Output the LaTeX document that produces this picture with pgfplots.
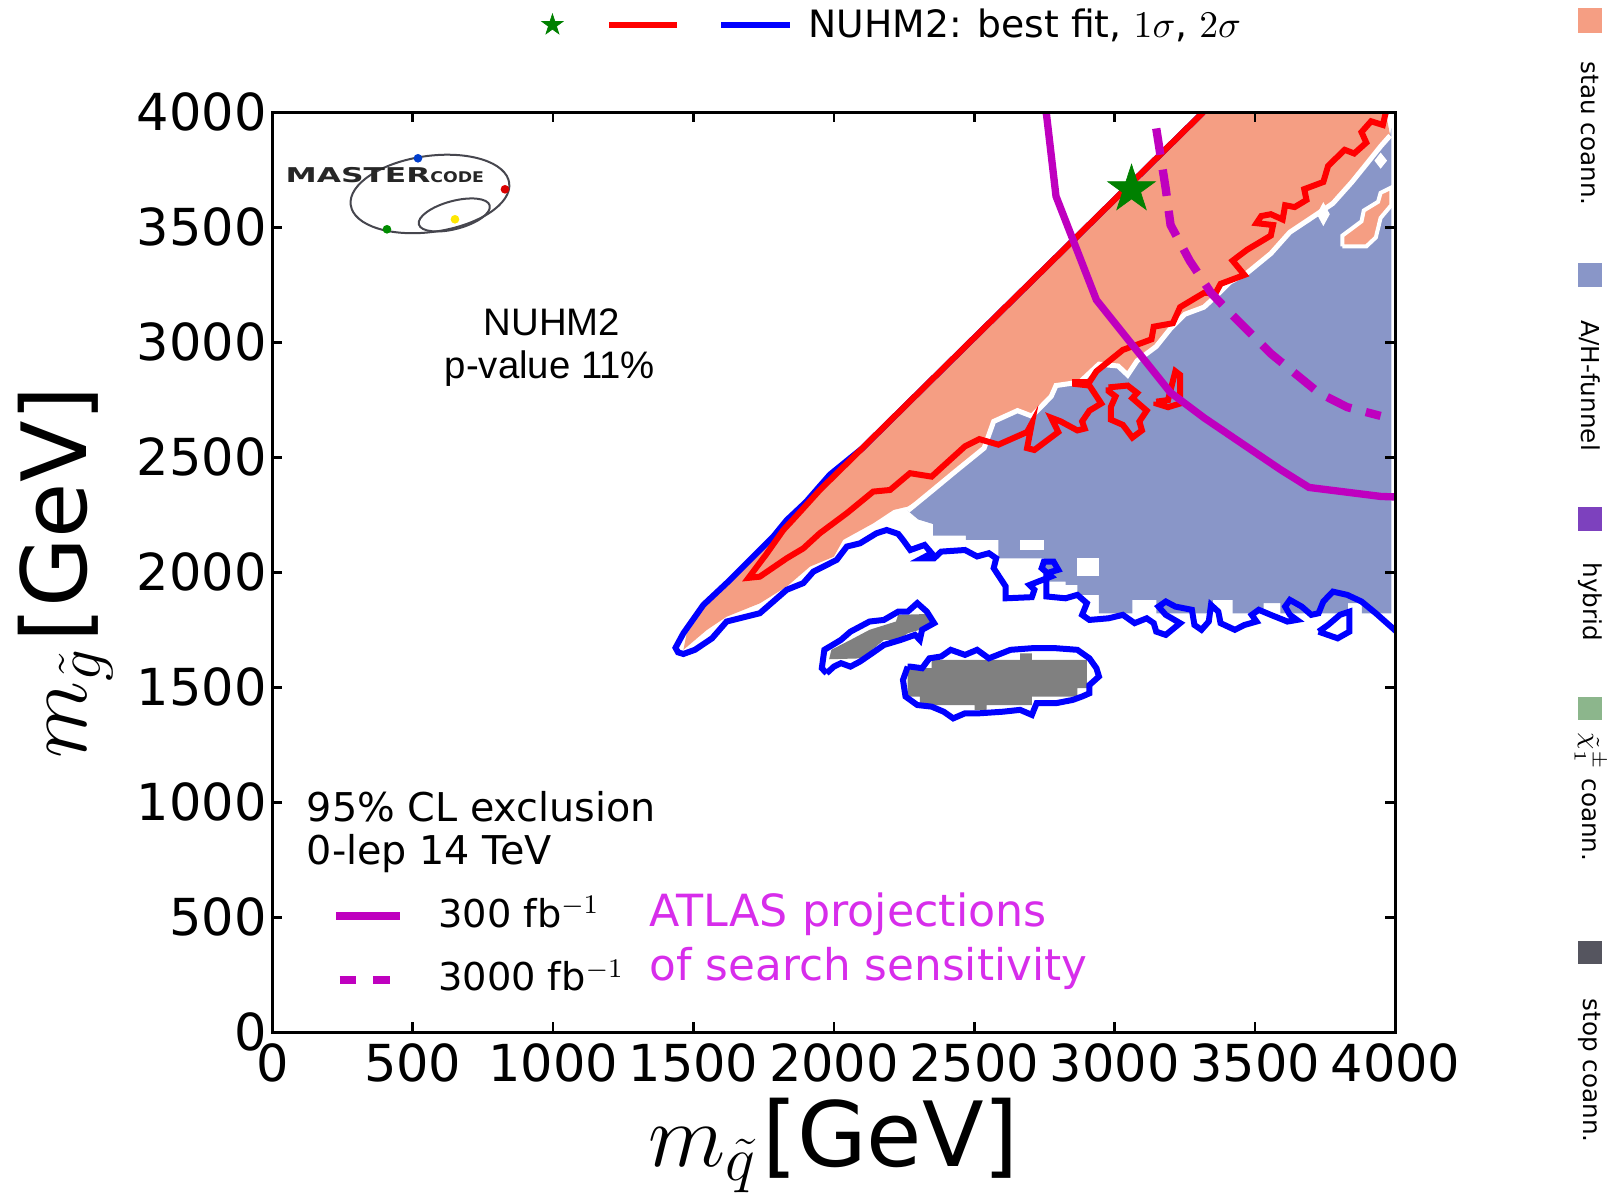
\RequirePackage{fix-cm}
\documentclass[border=0pt]{standalone}
\usepackage{fontspec}
\setmainfont{DejaVu Sans}
\newfontfamily\arialf{Liberation Sans}
\usepackage{pgfplots}
\pgfplotsset{compat=1.18}
\usetikzlibrary{shapes.geometric}

\definecolor{salm}{RGB}{245,158,131}
\definecolor{funnel}{RGB}{137,150,200}
\definecolor{stopc}{RGB}{128,128,128}
\definecolor{mg}{RGB}{191,0,191}
\definecolor{mgtext}{RGB}{215,45,235}
\definecolor{bfgreen}{RGB}{0,128,0}
\definecolor{hybridc}{RGB}{125,65,190}
\definecolor{charc}{RGB}{140,182,140}
\definecolor{stopleg}{RGB}{85,85,95}
\definecolor{logogray}{RGB}{70,70,78}

\pgfdeclareplotmark{fivestar}{%
  \pgfpathmoveto{\pgfpointpolar{90}{\pgfplotmarksize}}%
  \pgfpathlineto{\pgfpointpolar{126}{0.382\pgfplotmarksize}}%
  \pgfpathlineto{\pgfpointpolar{162}{\pgfplotmarksize}}%
  \pgfpathlineto{\pgfpointpolar{198}{0.382\pgfplotmarksize}}%
  \pgfpathlineto{\pgfpointpolar{234}{\pgfplotmarksize}}%
  \pgfpathlineto{\pgfpointpolar{270}{0.382\pgfplotmarksize}}%
  \pgfpathlineto{\pgfpointpolar{306}{\pgfplotmarksize}}%
  \pgfpathlineto{\pgfpointpolar{342}{0.382\pgfplotmarksize}}%
  \pgfpathlineto{\pgfpointpolar{18}{\pgfplotmarksize}}%
  \pgfpathlineto{\pgfpointpolar{54}{0.382\pgfplotmarksize}}%
  \pgfpathclose
  \pgfusepathqfillstroke
}

\begin{document}
\begin{tikzpicture}
\path[use as bounding box] (-81.69pt,-49.71pt) rectangle (400.41pt,309.69pt);

\begin{axis}[
  at={(0pt,0pt)}, anchor=south west,
  scale only axis, width=336.96pt, height=276pt,
  xmin=0, xmax=4000, ymin=0, ymax=4000,
  xtick={0,500,...,4000}, ytick={0,500,...,4000},
  scaled ticks=false,
  /pgf/number format/1000 sep={},
  /pgf/number format/assume math mode=true,
  tick align=inside, tick pos=both,
  major tick length=3pt,
  axis line style={line width=0.8pt},
  every tick/.style={black, line width=0.8pt},
  ticklabel style={font=\fontsize{15.3}{15.3}\selectfont},
  xticklabel style={inner sep=0pt, yshift=-3.3pt},
  yticklabel style={inner sep=0pt, xshift=-1.5pt},
  xlabel={$m_{\tilde{q}}$\kern1.5pt[GeV]},
  ylabel={$m_{\tilde{g}}$\kern1.5pt[GeV]},
  every axis x label/.style={at={([yshift=-40.3pt]axis description cs:0.5,0)}, anchor=base, font=\fontsize{27}{27}\selectfont},
  every axis y label/.style={at={([xshift=-55.6pt]axis description cs:0,0.5)}, anchor=base, rotate=90, font=\fontsize{27}{27}\selectfont},
  axis on top,
  legend style={draw=none, fill=none, inner sep=0pt, outer sep=0pt,
    at={(axis description cs:0.0537,0.154)}, anchor=north west,
    row sep=4.6pt, column sep=8.5pt,
    cells={anchor=base west, inner sep=0pt, text height=9pt, text depth=3pt},
    font=\fontsize{11.5}{11.5}\selectfont},
]
\addlegendimage{legend image code/.code={\draw[mg,line width=2.2pt] (0pt,3.4pt) -- (19pt,3.4pt);}}
\addlegendentry{300 fb$^{-1}$}
\addlegendimage{legend image code/.code={\draw[mg,line width=2.4pt,dash pattern=on 5pt off 5pt] (1pt,3.4pt) -- (16pt,3.4pt);}}
\addlegendentry{3000 fb$^{-1}$}

% stau coannihilation region
\addplot[draw=none, fill=salm, forget plot] coordinates {
(1464,1663)(1475,1730)(1540,1850)(1620,1945)(1713,2060)(1784,2150)(1832,2222)(1900,2298)(1950,2358)(2500,3020)(3315,4000)(3965,4000)(3981,3899)
(3947,3852)(3896,3774)(3845,3697)(3777,3604)(3692,3534)(3624,3479)(3556,3386)(3471,3301)(3411,3262)(3360,3200)(3318,3153)(3250,3122)(3199,3060)(3148,2982)(3080,2920)(3046,2858)(3012,2897)(2944,2905)(2876,2827)(2791,2812)(2774,2765)(2705,2679)(2654,2703)(2569,2656)(2535,2540)(2433,2439)(2348,2353)(2263,2286)
(2212,2271)(2140,2213)(2033,2141)(2000,2068)(1915,2025)(1832,1938)(1736,1865)(1618,1807)(1547,1749)(1464,1663)};

% A/H funnel region
\addplot[draw=none, fill=funnel, forget plot] coordinates {
(2263,2268)(2348,2353)(2433,2439)(2535,2540)(2569,2656)(2654,2703)(2705,2679)(2774,2765)(2791,2812)(2876,2827)(2944,2905)(3012,2897)(3046,2858)(3080,2920)(3148,2982)(3199,3060)(3250,3122)(3318,3153)(3360,3200)(3411,3262)(3471,3301)(3556,3386)(3624,3479)(3692,3534)(3777,3604)(3845,3697)(3896,3774)(3947,3852)(3981,3899)(3985,3930)
(3985,1822)(3880,1822)(3880,1866)(3830,1866)(3830,1822)(3590,1822)(3590,1866)(3530,1866)(3530,1822)(3420,1822)(3420,1880)(3350,1880)(3350,1822)(3148,1822)(3148,1880)(3063,1880)(3063,1822)(2944,1822)(2944,1902)(2867,1902)(2867,1945)(2825,1945)(2825,1960)(2748,1960)(2748,2061)(2586,2061)(2586,2141)(2470,2141)(2470,2160)(2353,2160)(2353,2210)(2300,2230)(2263,2268)};

% holes in funnel region
\addplot[draw=none, fill=white, forget plot] coordinates {(2867,1982)(2944,1982)(2944,2061)(2867,2061)};
\addplot[draw=none, fill=white, forget plot] coordinates {(2663,2097)(2748,2097)(2748,2141)(2663,2141)};
\addplot[draw=none, fill=white, forget plot] coordinates {(3720,3557)(3743,3610)(3766,3557)(3743,3505)};
\addplot[draw=none, fill=white, forget plot] coordinates {(3925,3790)(3947,3825)(3970,3790)(3947,3755)};

% stau strip at the right edge
\addplot[draw=white, line width=1.2pt, fill=salm, forget plot] coordinates {
(3811,3417)(3811,3464)(3879,3526)(3887,3573)(3938,3611)(3947,3650)(3985,3673)(3985,3596)(3947,3541)(3930,3456)(3896,3417)(3811,3417)};

% white border between regions
\addplot[white, line width=1.5pt, forget plot] coordinates {
(2263,2268)(2348,2353)(2433,2439)(2535,2540)(2569,2656)(2654,2703)(2705,2679)(2774,2765)(2791,2812)(2876,2827)(2944,2905)(3012,2897)(3046,2858)(3080,2920)(3148,2982)(3199,3060)(3250,3122)(3318,3153)(3360,3200)(3411,3262)(3471,3301)(3556,3386)(3624,3479)(3692,3534)(3777,3604)(3845,3697)(3896,3774)(3947,3852)(3981,3899)};

% stop coannihilation patches
\addplot[draw=none, fill=stopc, forget plot] coordinates {
(1983,1622)(1991,1663)(2059,1706)(2127,1750)(2221,1786)(2229,1815)(2340,1819)(2348,1786)(2306,1750)(2263,1735)(2229,1706)(2178,1706)(2136,1663)(2102,1626)};
\addplot[draw=none, fill=stopc, forget plot] coordinates {
(2263,1576)(2263,1460)(2306,1460)(2306,1423)(2501,1423)(2501,1402)(2544,1402)(2544,1423)(2705,1423)(2705,1460)(2867,1460)(2867,1496)(2901,1496)(2901,1619)(2705,1619)(2705,1648)(2663,1648)(2663,1619)(2348,1619)(2348,1583)(2263,1583)};

% 2 sigma contours (blue)
\addplot[blue, line width=1.8pt, forget plot] coordinates {
(3315,4000)(2900,3501)(2500,3020)(2100,2538)(1986,2425)(1950,2375)(1900,2305)(1832,2227)(1784,2155)(1713,2068)(1618,1953)(1535,1858)(1464,1735)(1436,1672)(1445,1652)(1464,1645)(1505,1663)(1566,1713)(1618,1786)(1736,1822)(1832,1924)(1891,1953)(1927,2003)(2010,2054)(2046,2112)(2093,2126)(2152,2170)(2188,2184)(2229,2167)(2246,2141)(2272,2097)(2323,2119)(2348,2083)(2314,2061)(2357,2061)(2382,2090)(2467,2097)(2510,2069)(2552,2083)(2578,2061)(2569,2018)(2612,1938)(2612,1887)(2705,1892)(2714,1924)(2697,1945)(2774,1982)(2740,2018)(2748,2047)(2782,2047)(2799,2011)(2757,1996)(2757,1895)(2825,1887)(2867,1902)(2901,1866)(2884,1815)(2910,1793)(2978,1800)(3029,1815)(3071,1779)(3114,1800)(3139,1779)(3148,1742)(3182,1728)(3233,1779)(3182,1815)(3156,1851)(3182,1873)(3216,1851)(3275,1837)(3284,1771)(3309,1750)(3335,1786)(3343,1858)(3369,1829)(3377,1779)(3428,1750)(3462,1771)(3505,1786)(3488,1815)(3513,1837)(3556,1815)(3615,1786)(3649,1793)(3624,1815)(3607,1851)(3624,1880)(3666,1851)(3700,1815)(3726,1822)(3743,1873)(3777,1916)(3828,1902)(3879,1873)(3930,1822)(3990,1757)(4010,1735)};
\addplot[blue, line width=1.8pt, forget plot] coordinates {
(3726,1742)(3794,1713)(3836,1742)(3836,1829)(3802,1815)(3760,1771)(3726,1742)};
\addplot[blue, line width=1.8pt, forget plot] coordinates {
(1974,1561)(1957,1583)(1966,1663)(2025,1706)(2059,1742)(2127,1786)(2178,1793)(2229,1829)(2263,1829)(2297,1866)(2331,1829)(2357,1779)(2314,1750)(2306,1706)(2289,1728)(2238,1706)(2178,1684)(2136,1648)(2093,1612)(2059,1590)(2025,1605)(2000,1590)(1974,1561)};
\addplot[blue, line width=1.8pt, forget plot] coordinates {
(2263,1590)(2246,1532)(2255,1460)(2297,1423)(2348,1416)(2391,1394)(2425,1365)(2467,1387)(2518,1387)(2603,1394)(2663,1402)(2705,1380)(2722,1431)(2791,1431)(2850,1445)(2884,1460)(2910,1474)(2910,1510)(2944,1547)(2935,1583)(2910,1626)(2867,1663)(2791,1670)(2705,1670)(2629,1663)(2552,1626)(2510,1663)(2467,1641)(2416,1663)(2382,1634)(2340,1626)(2314,1583)(2272,1590)(2263,1590)};

% 1 sigma contours (red)
\addplot[red, line width=1.8pt, forget plot] coordinates {
(3315,4000)(2900,3501)(2500,3020)(2100,2538)(1950,2358)(1870,2250)(1820,2184)(1760,2080)(1696,1976)
(1736,1981)(1832,2061)(1891,2104)(1950,2170)(2046,2257)(2140,2351)(2200,2358)(2271,2431)(2348,2416)(2382,2454)(2467,2548)(2518,2579)(2586,2555)(2688,2610)(2705,2648)(2688,2540)(2714,2532)(2799,2610)(2774,2672)(2808,2656)(2867,2617)(2893,2625)(2884,2656)(2910,2703)(2952,2734)(2910,2812)(2859,2819)(2859,2827)(2910,2827)(2935,2874)(3029,2967)(3131,3013)(3139,3068)(3207,3083)(3233,3153)(3318,3215)(3360,3215)(3377,3254)(3462,3293)(3420,3355)(3471,3402)(3556,3464)(3564,3510)(3505,3518)(3522,3549)(3556,3557)(3598,3534)(3607,3596)(3641,3588)(3683,3619)(3675,3666)(3743,3697)(3760,3767)(3819,3837)(3853,3821)(3896,3868)(3879,3914)(3913,3961)(3955,3945)(3964,3992)(3970,4010)};
\addplot[red, line width=1.8pt, forget plot] coordinates {
(2978,2804)(3046,2812)(3080,2780)(3063,2757)(3114,2703)(3088,2656)(3097,2617)(3063,2586)(3029,2641)(2986,2664)(2986,2718)(3003,2765)(2978,2788)(2978,2804)};
\addplot[red, line width=1.8pt, forget plot] coordinates {
(3148,2742)(3190,2749)(3216,2874)(3233,2858)(3233,2734)(3190,2718)(3148,2734)(3148,2742)};

% ATLAS projections
\addplot[mg, line width=2.2pt, forget plot] coordinates {
(2755,4000)(2757,3992)(2791,3635)(2935,3184)(3199,2781)(3318,2672)(3590,2447)(3692,2369)(3947,2330)(4012,2327)};
\addplot[mg, line width=2.5pt, dash pattern=on 8pt off 4.5pt, forget plot] coordinates {
(3148,3930)(3182,3666)(3199,3510)(3267,3355)(3343,3215)(3403,3138)(3556,2951)(3726,2781)(3828,2718)(3947,2680)};

% best fit point
\addplot[only marks, mark=fivestar, mark size=7.5pt, mark options={fill=bfgreen, draw=bfgreen, line width=0.2pt}, forget plot] coordinates {(3060,3665)};
\end{axis}

% hidden axis carrying the top legend
\begin{axis}[
  at={(0pt,0pt)}, anchor=south west,
  scale only axis, width=336.96pt, height=276pt,
  xmin=0, xmax=1, ymin=0, ymax=1, hide axis,
  legend style={draw=none, fill=none, inner sep=0pt, outer sep=0pt,
    at={(axis description cs:0.2401,1.121)}, anchor=north west,
    column sep=2.6pt,
    cells={anchor=base west, inner sep=0pt, text height=9pt, text depth=3pt},
    font=\fontsize{11.3}{11.3}\selectfont},
]
\addlegendimage{legend image code/.code={%
  \path plot[mark=fivestar, mark size=3.3pt, mark options={fill=bfgreen, draw=bfgreen, line width=0.2pt}] coordinates {(0pt,3.8pt)};
  \draw[red, line width=1.7pt] (17.1pt,3.8pt) -- (37.4pt,3.8pt);
  \draw[blue, line width=1.7pt] (50.7pt,3.8pt) -- (71.4pt,3.8pt);}}
\addlegendentry{NUHM2: best fit, $1\sigma$, $2\sigma$}
\end{axis}

% annotations
\node[anchor=base, font=\arialf\fontsize{11.5}{11.5}\selectfont, inner sep=0pt] at (83.9pt,208.9pt) {NUHM2};
\node[anchor=base, font=\arialf\fontsize{11.5}{11.5}\selectfont, inner sep=0pt] at (83.3pt,196pt) {p-value 11\%};
\node[anchor=base west, font=\fontsize{11.9}{11.9}\selectfont, inner sep=0pt] at (10.2pt,63.2pt) {95\% CL exclusion};
\node[anchor=base west, font=\fontsize{11.9}{11.9}\selectfont, inner sep=0pt] at (10.2pt,50.2pt) {0-lep 14 TeV};
\node[anchor=base west, font=\fontsize{13.3}{13.3}\selectfont, inner sep=0pt, text=mgtext] at (113.1pt,31.7pt) {ATLAS projections};
\node[anchor=base west, font=\fontsize{13.1}{13.1}\selectfont, inner sep=0pt, text=mgtext] at (113.1pt,15.6pt) {of search sensitivity};

% mastercode logo
\draw[logogray, line width=0.6pt, rotate around={8:(47.3pt,251.5pt)}] (47.3pt,251.5pt) ellipse [x radius=24pt, y radius=11.4pt];
\draw[logogray, line width=0.6pt, rotate around={15:(54.6pt,245.2pt)}] (54.6pt,245.2pt) ellipse [x radius=11pt, y radius=4.2pt];
\node[anchor=base west, font=\bfseries\fontsize{9.4}{9.4}\selectfont, inner sep=0pt, yscale=0.65, text=black!85] at (3.8pt,255pt) {MASTER};
\node[anchor=base west, font=\bfseries\fontsize{5.2}{5.2}\selectfont, inner sep=0pt, yscale=0.85, text=black!85] at (47.2pt,255pt) {CODE};
\fill[blue!70!cyan!80!black] (43.7pt,262.2pt) circle (1.3pt);
\fill[red!85!black] (69.8pt,252.9pt) circle (1.3pt);
\fill[yellow!90!orange] (54.8pt,243.9pt) circle (1.3pt);
\fill[green!55!black] (34.4pt,240.9pt) circle (1.3pt);

% region legend on the right
\fill[salm] (391.7pt,299.8pt) rectangle (398.9pt,307.3pt);
\fill[funnel] (391.7pt,223.6pt) rectangle (398.9pt,230.8pt);
\fill[hybridc] (391.7pt,150.3pt) rectangle (398.9pt,157.6pt);
\fill[charc] (391.7pt,93.7pt) rectangle (398.9pt,100.6pt);
\fill[stopleg] (391.7pt,20.5pt) rectangle (398.9pt,27.4pt);
\begin{scope}[every node/.style={rotate=-90, anchor=west, inner sep=0pt, font=\fontsize{7.4}{7.4}\selectfont}]
\node at (395.3pt,291.4pt) {stau coann.};
\node at (395.3pt,213.7pt) {A/H-funnel};
\node at (395.3pt,141.1pt) {hybrid};
\node at (395.3pt,90.1pt) {$\tilde{\chi}^{\pm}_{1}$ coann.};
\node at (395.3pt,10.3pt) {stop coann.};
\end{scope}
\end{tikzpicture}
\end{document}
